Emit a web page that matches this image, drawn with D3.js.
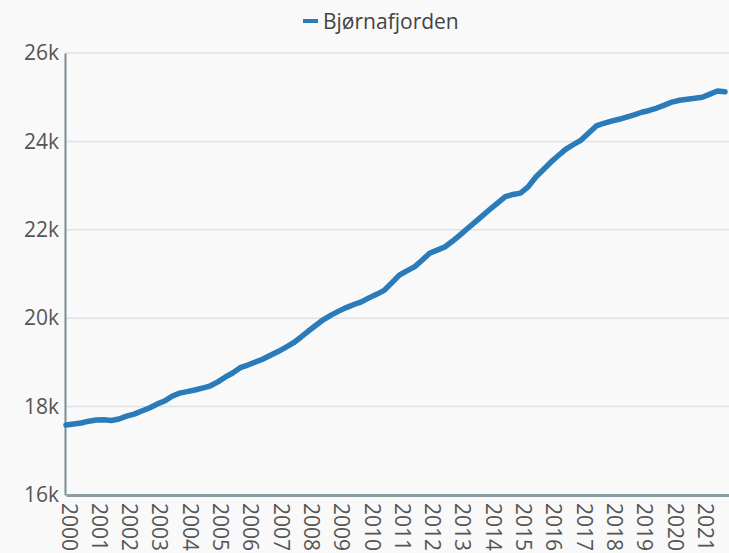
<!DOCTYPE html>
<html>
<head>
<meta charset="utf-8">
<script src="https://cdn.jsdelivr.net/npm/d3@7"></script>
<style>
  body { margin: 0; background: #f9f9f9; }
  svg { display: block; font-family: "Open Sans", sans-serif; }
</style>
</head>
<body>
<script>
 // quarterly population, Bjørnafjorden
 const seriesName = 'Bjørnafjorden';
 const years = d3.range(2000, 2022);
 const quarters = [0, 0.25, 0.5, 0.75];
 const population = [
    17583, 17605, 17630, 17670,
    17695, 17700, 17685, 17720,
    17785, 17830, 17900, 17970,
    18055, 18125, 18235, 18305,
    18340, 18375, 18420, 18465,
    18555, 18665, 18760, 18880,
    18940, 19010, 19075, 19160,
    19245, 19340, 19440, 19570,
    19710, 19840, 19970, 20070,
    20160, 20240, 20310, 20370,
    20460, 20540, 20630, 20800,
    20975, 21070, 21160, 21310,
    21470, 21540, 21610, 21740,
    21880, 22030, 22175, 22320,
    22470, 22610, 22750, 22800,
    22830, 22970, 23190, 23360,
    23530, 23680, 23825, 23930,
    24030, 24190, 24350, 24410,
    24460, 24500, 24550, 24600,
    24660, 24700, 24755, 24820,
    24890, 24930, 24955, 24975,
    25000, 25070, 25140, 25125
 ];
 const yTicks = [16000, 18000, 20000, 22000, 24000, 26000];

 // build points: year + quarter offset
 const data = population.map((v, i) => ({
    t: years[Math.floor(i / 4)] + quarters[i % 4],
    v: v
 }));

 // constants
 const width = 729;
 const height = 553;
 const margin = { top: 53, bottom: 58, left: 66, right: 0 };
 const lineColor = '#2a7bb9';

 const svg = d3.select('body').append('svg')
       .attr('width', width).attr('height', height);

 svg.append('rect').attr('width', width).attr('height', height).attr('fill', '#f9f9f9');

 const xScale = d3.scaleLinear()
       .domain([2000, 2022]).range([margin.left, margin.left + 22 * 30.3]);
 const yScale = d3.scaleLinear()
       .domain([16000, 26000]).range([height - margin.bottom, margin.top]);

 // gridlines
 svg.append('g').selectAll('line').data(yTicks.slice(1)).enter().append('line')
    .attr('x1', margin.left - 1).attr('x2', width)
    .attr('y1', (d) => yScale(d)).attr('y2', (d) => yScale(d))
    .attr('stroke', '#dde2e6').attr('stroke-width', 1.5);

 // y axis
 const yAxis = svg.append('g').attr('transform', `translate(${margin.left - 1},0)`)
    .call(d3.axisLeft(yScale).tickValues(yTicks).tickSize(0).tickPadding(6)
          .tickFormat((d) => `${d / 1000}k`));
 yAxis.select('.domain').attr('stroke', '#7d8c93').attr('stroke-width', 2);
 yAxis.selectAll('text').attr('font-size', 21).attr('fill', '#555').attr('font-family', '"Open Sans"');

 // x axis
 const xAxis = svg.append('g').attr('transform', `translate(0,${height - margin.bottom})`)
    .call(d3.axisBottom(xScale).tickValues(years).tickSize(0).tickFormat((d) => d));
 xAxis.select('.domain').attr('stroke', '#8d9ca3').attr('stroke-width', 3);
 xAxis.selectAll('text')
    .attr('font-size', 21).attr('fill', '#555').attr('font-family', '"Open Sans"')
    .attr('text-anchor', 'start').attr('dominant-baseline', 'central')
    .attr('y', 0).attr('dy', null)
    .attr('transform', 'translate(3,8) rotate(90)');

 // line
 const line = d3.line().x((d) => xScale(d.t)).y((d) => yScale(d.v));
 svg.append('path').datum(data)
    .attr('d', line).attr('fill', 'none')
    .attr('stroke', lineColor).attr('stroke-width', 5.5)
    .attr('stroke-linejoin', 'round').attr('stroke-linecap', 'round');

 // legend
 const legend = svg.append('g').attr('transform', 'translate(303,21)');
 legend.append('line').attr('x1', 0).attr('x2', 15).attr('y1', 0).attr('y2', 0)
    .attr('stroke', lineColor).attr('stroke-width', 4);
 legend.append('text').attr('x', 20).attr('y', 0).attr('dominant-baseline', 'central')
    .attr('font-size', 21).attr('fill', '#444').text(seriesName);
</script>
</body>
</html>
